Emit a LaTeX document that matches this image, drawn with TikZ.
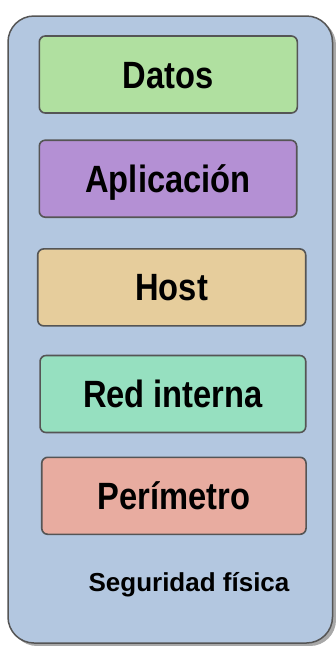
\documentclass[tikz,border=0pt]{standalone}
\usepackage{fontspec}
\setmainfont{Liberation Sans}
\newfontfamily\layerfont[FakeStretch=0.86]{Liberation Sans}

\definecolor{fondo}{HTML}{B3C7E0}
\definecolor{borde}{HTML}{555555}
\definecolor{sombra}{HTML}{A8A8A8}
\definecolor{verde}{HTML}{B0E0A0}
\definecolor{lila}{HTML}{B490D4}
\definecolor{arena}{HTML}{E6CD9C}
\definecolor{menta}{HTML}{96E0C0}
\definecolor{salmon}{HTML}{E8ACA0}

\begin{document}
\begin{tikzpicture}[x=1pt, y=-1pt,
    capa/.style={rectangle, rounded corners=6pt, draw=borde, line width=1.6pt,
        minimum height=77pt, inner sep=0pt, text height=27pt, text depth=0pt,
        font=\layerfont\bfseries\fontsize{38}{42}\selectfont}]
                \useasboundingbox (0,0) rectangle (336,646);

                % outer box with its shadow
                \fill[sombra, rounded corners=26pt] (11,19) rectangle (336,646);
                \draw[fill=fondo, draw=borde, line width=1.5pt, rounded corners=26pt] (8,16) rectangle (332.5,643);

                \node [capa, fill=verde, minimum width=258pt] (DA) at (168.3,74.5) {Datos};
                \node [capa, fill=lila, minimum width=257.4pt] (AP) at (168,178.7) {Aplicación};
                \node [capa, fill=arena, minimum width=268pt] (HO) at (171.7,287.4) {Host};
                \node [capa, fill=menta, minimum width=265.7pt] (RI) at (172.9,394) {Red interna};
                \node [capa, fill=salmon, minimum width=264.3pt] (PE) at (173.9,495.8) {Perímetro};

                \node [anchor=base, font=\bfseries\fontsize{26}{30}\selectfont] (SF) at (189,591) {Seguridad física};
            \end{tikzpicture}
\end{document}
